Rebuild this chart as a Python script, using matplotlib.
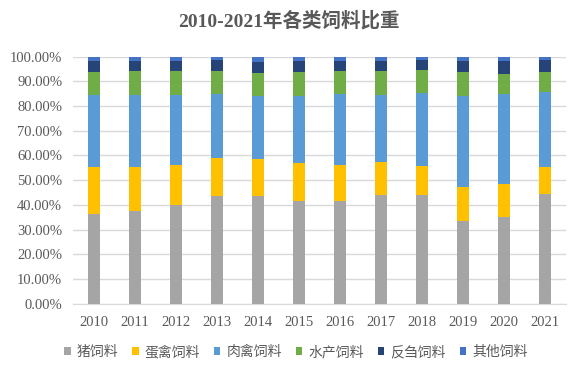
import matplotlib.pyplot as plt
import numpy as np
from matplotlib.ticker import PercentFormatter

# share of each feed type per year (%)
years = ['2010', '2011', '2012', '2013', '2014', '2015',
         '2016', '2017', '2018', '2019', '2020', '2021']
pig = [36.4, 37.6, 39.8, 43.4, 43.4, 41.7, 41.7, 44.1, 43.9, 33.3, 35.2, 44.5]
egg = [18.8, 17.6, 16.4, 15.6, 15.0, 15.1, 14.5, 13.3, 12.0, 13.8, 13.4, 11.0]
meat = [29.4, 29.4, 28.4, 26.0, 25.5, 27.4, 28.8, 27.2, 29.4, 36.9, 36.4, 30.3]
aqua = [9.0, 9.4, 9.7, 9.3, 9.5, 9.6, 9.0, 9.4, 9.4, 9.6, 8.1, 7.8]
rumi = [4.5, 4.1, 4.1, 4.2, 4.5, 4.3, 4.1, 4.1, 4.1, 4.8, 5.3, 5.2]
other = [1.9, 1.9, 1.6, 1.5, 2.1, 1.9, 1.9, 1.9, 1.2, 1.6, 1.6, 1.2]

names = ['猪饲料', '蛋禽饲料', '肉禽饲料', '水产饲料', '反刍饲料', '其他饲料']
colors = ['#A5A5A5', '#FFC000', '#5B9BD5', '#70AD47', '#264478', '#4472C4']

series = [pig, egg, meat, aqua, rumi, other]

fig = plt.figure(figsize=(5.75, 3.68), dpi=100)
ax = fig.add_axes([0.1275, 0.175, 0.8565, 0.671])

x = np.arange(len(years))
bottom = np.zeros(len(years))
for vals, name, col in zip(series, names, colors):
    vals = np.array(vals) / 100.0
    ax.bar(x, vals, 0.3, bottom=bottom, color=col, label=name, zorder=3)
    bottom += vals

ax.set_xlim(-0.5, len(years) - 0.5)
ax.set_ylim(0, 1.0)
ax.set_yticks(np.arange(0, 1.01, 0.1))
ax.yaxis.set_major_formatter(PercentFormatter(1.0, decimals=2))
ax.set_xticks(x)
ax.set_xticklabels(years)

for lab in ax.get_xticklabels() + ax.get_yticklabels():
    lab.set_family('Liberation Serif')
    lab.set_fontsize(10.5)
    lab.set_color('#595959')
ax.tick_params(axis='both', length=0)
ax.tick_params(axis='x', pad=9)
ax.tick_params(axis='y', pad=8)

ax.grid(axis='y', color='#D9D9D9', linewidth=1, zorder=0)
for s in ['top', 'right', 'left']:
    ax.spines[s].set_visible(False)
ax.spines['bottom'].set_color('#D9D9D9')

fig.text(0.503, 0.943, '2010-2021年各类饲料比重', ha='center', va='center',
         fontsize=14, fontweight='bold', color='#595959',
         family=['Liberation Serif', 'Noto Sans CJK SC'])

leg = fig.legend(loc='center', bbox_to_anchor=(0.515, 0.043), ncol=6,
                 frameon=False, handlelength=0.45, handleheight=0.45,
                 handletextpad=0.45, columnspacing=1.0,
                 prop={'family': 'Noto Sans CJK SC', 'size': 10})
for t in leg.get_texts():
    t.set_color('#595959')

fig.savefig('out.png', dpi=100)
